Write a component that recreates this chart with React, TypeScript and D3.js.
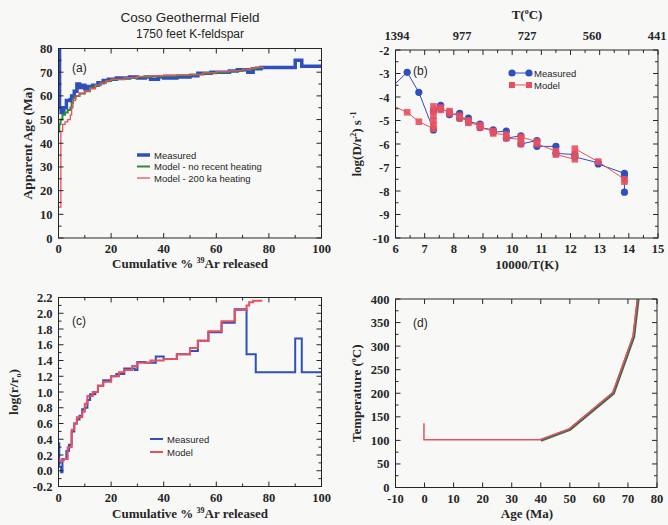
import React, { useEffect, useRef } from 'react';
import * as d3 from 'd3';

// (a) apparent age spectra: [cumulative % 39Ar, age Ma]
const ageMeasured = [[0,80],[0.4,55],[1,53],[2,55],[3,58],[4.5,58.5],[5,60],[6,62],[7,65],[8,63.5],[9,64.5],[10,63],[11,64],[13,64.5],[15,65.5],[17,66.5],[19,67],[22,67.5],[27,68],[30,67.5],[33,68],[35,67],[38,68],[40,67.5],[45,68],[50,68.5],[53,69.5],[58,70],[65,70.5],[68,71],[72,70],[74,71.5],[77,72],[90,75],[92.5,72.5],[100,72.5]];
const ageModelNoHeat = [[0,45],[0.3,48],[0.8,50],[1.5,52],[2.5,53],[3.5,54],[4.5,55],[5,57],[5.5,59],[6.5,60],[8,61],[10,62],[12,63.5],[14,64.5],[16,65.5],[18,66.3],[20,67],[25,67.5],[30,68],[35,68.3],[40,68.5],[45,68.7],[50,69],[55,69.5],[60,70],[65,70.5],[70,71],[73,71.5],[75,72],[78,72]];
const ageModelHeat = [[0,13],[0.9,45],[1.6,48],[2.5,49],[3.5,50],[4.5,52],[5,55],[5.5,58],[6.5,60],[8,61],[10,62],[12,63],[14,64.5],[16,65.5],[18,66.3],[20,67],[25,67.7],[30,68.2],[35,68.5],[40,68.7],[45,68.8],[50,69],[55,69.7],[60,70.2],[65,70.7],[70,71.2],[73,71.7],[75,72],[78,72]];
const ageXTicks = [0, 20, 40, 60, 80, 100];
const ageYTicks = [0, 10, 20, 30, 40, 50, 60, 70, 80];

// (b) Arrhenius plot: [10000/T(K), log(D/r^2)]
const arrMeasured = [[5.6,-3.9],[6.4,-2.95],[6.8,-3.8],[7.3,-5.4],[7.3,-4.6],[7.55,-4.35],[7.55,-4.5],[7.85,-4.65],[7.85,-4.75],[8.2,-4.7],[8.2,-4.9],[8.5,-4.9],[8.5,-5.05],[8.9,-5.15],[8.9,-5.3],[9.35,-5.4],[9.35,-5.5],[9.8,-5.45],[9.8,-5.75],[10.3,-5.65],[10.3,-6.0],[10.85,-5.85],[10.85,-6.1],[11.5,-6.1],[11.5,-6.4],[12.15,-6.45],[12.15,-6.55],[12.95,-6.8],[12.95,-6.85],[13.85,-7.25],[13.85,-7.35],[13.85,-8.05]];
const arrModel = [[5.6,-4.2],[6.4,-4.65],[6.8,-5.05],[7.3,-5.35],[7.3,-5.2],[7.3,-5.0],[7.3,-4.8],[7.3,-4.6],[7.3,-4.4],[7.55,-4.45],[7.55,-4.55],[7.85,-4.6],[7.85,-4.7],[8.2,-4.8],[8.2,-4.9],[8.5,-5.0],[8.5,-5.1],[8.9,-5.2],[8.9,-5.3],[9.35,-5.45],[9.35,-5.55],[9.8,-5.6],[9.8,-5.75],[10.3,-5.8],[10.3,-6.0],[10.3,-5.7],[10.85,-5.9],[10.85,-6.0],[11.5,-6.3],[11.5,-6.45],[12.15,-6.65],[12.15,-6.45],[12.15,-6.2],[12.95,-6.75],[13.85,-7.5],[13.85,-7.6]];
const arrXTicks = [6, 7, 8, 9, 10, 11, 12, 13, 14, 15];
const arrYTicks = [-10, -9, -8, -7, -6, -5, -4, -3, -2];
const topTempLabels = ['1394', '977', '727', '560', '441'];

// (c) log(r/r0) spectra
const rMeasured = [[0,0.35],[0.3,0.05],[1,-0.02],[1.5,0.15],[3,0.25],[4,0.33],[5,0.5],[6,0.6],[7,0.65],[8,0.7],[9,0.78],[10,0.8],[11,0.9],[12,0.97],[14,1.0],[15,1.08],[17,1.15],[20,1.2],[22,1.23],[25,1.3],[29,1.28],[30,1.38],[33,1.37],[37,1.45],[40,1.42],[45,1.48],[50,1.52],[53,1.65],[57,1.76],[62,1.88],[67,2.05],[71.5,1.48],[75,1.25],[90,1.68],[92.5,1.25],[100,1.25]];
const rModel = [[0,0.13],[2,0.15],[3.5,0.3],[5,0.52],[6,0.6],[7,0.68],[9,0.75],[10,0.85],[11,0.95],[13,1.0],[15,1.08],[17,1.13],[20,1.2],[23,1.25],[25,1.28],[28,1.33],[30,1.37],[35,1.4],[40,1.42],[45,1.48],[50,1.56],[53,1.65],[57,1.77],[62,1.9],[67,2.04],[71.5,2.1],[72.5,2.14],[74,2.16],[77.5,2.16]];
const rYTicks = [-0.2, 0, 0.2, 0.4, 0.6, 0.8, 1.0, 1.2, 1.4, 1.6, 1.8, 2.0, 2.2];

// (d) thermal history: [age Ma, T °C]
const histHeat = [[0,135],[0,100],[40,100],[50,123],[65,200],[72,320],[73.5,400]];
const histNoHeat = [[40,100],[50,123],[65,200],[72,320],[73.5,400]];
const histXTicks = [-10, 0, 10, 20, 30, 40, 50, 60, 70, 80];
const histYTicks = [0, 50, 100, 150, 200, 250, 300, 350, 400];

const BLUE = '#2f4fbf';
const GREEN = '#2f8a3c';
const RED = '#e8505f';
const INK = '#262626';
const SERIF = '"Liberation Serif", "DejaVu Serif", serif';
const SANS = '"Liberation Sans", Arial, sans-serif';

type G = d3.Selection<SVGGElement, unknown, null, undefined>;

const mids = (t: number[]) => t.slice(1).map((v, i) => Math.round(((v + t[i]) / 2) * 1000) / 1000);

function frame(g: G, x: any, y: any, xMaj: number[], xMin: number[], yMaj: number[], yMin: number[], yFmt: (v: number) => string) {
  const [x0, x1] = x.range();
  const [y0, y1] = y.range();
  g.append('rect').attr('x', x0).attr('y', y1).attr('width', x1 - x0).attr('height', y0 - y1)
    .attr('fill', 'none').attr('stroke', INK).attr('stroke-width', 1);
  const tick = (vals: number[], len: number) => {
    vals.forEach(v => {
      const px = x(v);
      g.append('line').attr('x1', px).attr('x2', px).attr('y1', y0).attr('y2', y0 - len).attr('stroke', INK);
      g.append('line').attr('x1', px).attr('x2', px).attr('y1', y1).attr('y2', y1 + len).attr('stroke', INK);
    });
  };
  const ticky = (vals: number[], len: number) => {
    vals.forEach(v => {
      const py = y(v);
      g.append('line').attr('x1', x0).attr('x2', x0 + len).attr('y1', py).attr('y2', py).attr('stroke', INK);
      g.append('line').attr('x1', x1).attr('x2', x1 - len).attr('y1', py).attr('y2', py).attr('stroke', INK);
    });
  };
  tick(xMaj, 5); tick(xMin, 3); ticky(yMaj, 5); ticky(yMin, 3);
  g.selectAll(null).data(xMaj).enter().append('text')
    .attr('x', d => x(d)).attr('y', y0 + 15).attr('text-anchor', 'middle')
    .attr('font-family', SERIF).attr('font-weight', 'bold').attr('font-size', 12.5).attr('fill', INK)
    .text(d => String(d));
  g.selectAll(null).data(yMaj).enter().append('text')
    .attr('x', x0 - 6).attr('y', d => y(d) + 4.5).attr('text-anchor', 'end')
    .attr('font-family', SERIF).attr('font-weight', 'bold').attr('font-size', 12.5).attr('fill', INK)
    .text(d => yFmt(d));
}

function clip(defs: any, id: string, x: any, y: any) {
  const [x0, x1] = x.range();
  const [y0, y1] = y.range();
  defs.append('clipPath').attr('id', id).append('rect').attr('x', x0).attr('y', y1).attr('width', x1 - x0).attr('height', y0 - y1);
}

function cumLabel(g: G, cx: number, cy: number) {
  const t = g.append('text').attr('x', cx).attr('y', cy).attr('text-anchor', 'middle')
    .attr('font-family', SERIF).attr('font-weight', 'bold').attr('font-size', 13).attr('fill', INK);
  t.append('tspan').text('Cumulative % ');
  t.append('tspan').attr('font-size', 8).attr('dy', -5).text('39');
  t.append('tspan').attr('dy', 5).text('Ar released');
}

function legend(g: G, x: number, y: number, items: [string, string, number][], gap: number) {
  items.forEach(([label, color, w], i) => {
    g.append('line').attr('x1', x).attr('x2', x + 13).attr('y1', y + i * gap).attr('y2', y + i * gap)
      .attr('stroke', color).attr('stroke-width', w);
    g.append('text').attr('x', x + 17).attr('y', y + i * gap + 3.5).attr('font-family', SANS)
      .attr('font-size', 9.5).attr('fill', INK).text(label);
  });
}

export default function App() {
  const ref = useRef<SVGSVGElement>(null);

  useEffect(() => {
    const svg = d3.select(ref.current);
    svg.selectAll('*').remove();
    svg.append('rect').attr('width', 668).attr('height', 525).attr('fill', '#f8f8f7');
    const defs = svg.append('defs');
    const g = svg.append('g') as unknown as G;
    const intFmt = (v: number) => String(v);

    // ---------- (a)
    const xa = d3.scaleLinear().domain([0, 100]).range([58.5, 321.5]);
    const ya = d3.scaleLinear().domain([0, 80]).range([238, 48.5]);
    clip(defs, 'ca', xa, ya);
    const la = d3.line().x((d: any) => xa(d[0])).y((d: any) => ya(d[1])).curve(d3.curveStepAfter);
    const pa = g.append('g').attr('clip-path', 'url(#ca)');
    pa.append('path').attr('d', la(ageMeasured as any)).attr('fill', 'none').attr('stroke', BLUE).attr('stroke-width', 3.5);
    pa.append('path').attr('d', la(ageModelNoHeat as any)).attr('fill', 'none').attr('stroke', GREEN).attr('stroke-width', 2);
    pa.append('path').attr('d', la(ageModelHeat as any)).attr('fill', 'none').attr('stroke', RED).attr('stroke-width', 1.3);
    frame(g, xa, ya, ageXTicks, mids(ageXTicks), ageYTicks, mids(ageYTicks), intFmt);
    g.append('text').attr('x', 72).attr('y', 72).attr('font-family', SANS).attr('font-size', 12).attr('fill', INK).text('(a)');
    legend(g, 137, 155, [['Measured', BLUE, 3.5], ['Model - no recent heating', GREEN, 2], ['Model - 200 ka heating', RED, 1.3]], 11.5);
    g.append('text').attr('x', 190).attr('y', 22).attr('text-anchor', 'middle').attr('font-family', SANS).attr('font-size', 13.5).attr('fill', INK).text('Coso Geothermal Field');
    g.append('text').attr('x', 190).attr('y', 38).attr('text-anchor', 'middle').attr('font-family', SANS).attr('font-size', 12).attr('fill', INK).text('1750 feet K-feldspar');
    g.append('text').attr('transform', `translate(32,${(48.5 + 238) / 2}) rotate(-90)`).attr('text-anchor', 'middle')
      .attr('font-family', SERIF).attr('font-weight', 'bold').attr('font-size', 13.5).attr('fill', INK).text('Apparent Age (Ma)');
    cumLabel(g, 190, 268);

    // ---------- (b)
    const xb = d3.scaleLinear().domain([6, 15]).range([395.5, 658]);
    const yb = d3.scaleLinear().domain([-10, -2]).range([238, 50]);
    clip(defs, 'cb', xb, yb);
    const lb = d3.line().x((d: any) => xb(d[0])).y((d: any) => yb(d[1]));
    const pb = g.append('g').attr('clip-path', 'url(#cb)');
    pb.append('path').attr('d', lb(arrMeasured as any)).attr('fill', 'none').attr('stroke', BLUE).attr('stroke-width', 1);
    pb.selectAll(null).data(arrMeasured).enter().append('circle')
      .attr('cx', d => xb(d[0])).attr('cy', d => yb(d[1])).attr('r', 3.6).attr('fill', BLUE);
    pb.append('path').attr('d', lb(arrModel as any)).attr('fill', 'none').attr('stroke', RED).attr('stroke-width', 1);
    pb.selectAll(null).data(arrModel).enter().append('rect')
      .attr('x', d => xb(d[0]) - 3.3).attr('y', d => yb(d[1]) - 3.3).attr('width', 6.6).attr('height', 6.6).attr('fill', RED).attr('opacity', 0.9);
    frame(g, xb, yb, arrXTicks, mids(arrXTicks), arrYTicks, mids(arrYTicks), intFmt);
    const xTop = d3.scalePoint().domain(topTempLabels).range([397, 657]);
    g.selectAll(null).data(topTempLabels).enter().append('text')
      .attr('x', d => xTop(d)!).attr('y', 40).attr('text-anchor', 'middle')
      .attr('font-family', SERIF).attr('font-weight', 'bold').attr('font-size', 12.5).attr('fill', INK).text(d => d);
    const tt = g.append('text').attr('x', 527).attr('y', 19).attr('text-anchor', 'middle')
      .attr('font-family', SERIF).attr('font-weight', 'bold').attr('font-size', 13).attr('fill', INK);
    tt.append('tspan').text('T(');
    tt.append('tspan').attr('font-size', 8).attr('dy', -5).text('o');
    tt.append('tspan').attr('dy', 5).text('C)');
    g.append('text').attr('x', 413).attr('y', 75).attr('font-family', SANS).attr('font-size', 12).attr('fill', INK).text('(b)');
    // legend b
    [[BLUE, 'Measured', 73], [RED, 'Model', 85]].forEach(([c, label, yy]: any, i) => {
      g.append('line').attr('x1', 512).attr('x2', 529).attr('y1', yy).attr('y2', yy).attr('stroke', c).attr('stroke-width', 1);
      if (i === 0) {
        g.append('circle').attr('cx', 512).attr('cy', yy).attr('r', 3.6).attr('fill', c);
        g.append('circle').attr('cx', 529).attr('cy', yy).attr('r', 3.6).attr('fill', c);
      } else {
        g.append('rect').attr('x', 509).attr('y', yy - 3).attr('width', 6).attr('height', 6).attr('fill', c);
        g.append('rect').attr('x', 526).attr('y', yy - 3).attr('width', 6).attr('height', 6).attr('fill', c);
      }
      g.append('text').attr('x', 534).attr('y', yy + 3.5).attr('font-family', SANS).attr('font-size', 9.5).attr('fill', INK).text(label);
    });
    const yl = g.append('text').attr('transform', `translate(361,${(50 + 238) / 2}) rotate(-90)`).attr('text-anchor', 'middle')
      .attr('font-family', SERIF).attr('font-weight', 'bold').attr('font-size', 13).attr('fill', INK);
    yl.append('tspan').text('log(D/r');
    yl.append('tspan').attr('font-size', 8).attr('dy', -5).text('2');
    yl.append('tspan').attr('dy', 5).text(') s');
    yl.append('tspan').attr('font-size', 8).attr('dy', -5).text(' -1');
    g.append('text').attr('x', 527).attr('y', 269).attr('text-anchor', 'middle')
      .attr('font-family', SERIF).attr('font-weight', 'bold').attr('font-size', 13).attr('fill', INK).text('10000/T(K)');

    // ---------- (c)
    const xc = d3.scaleLinear().domain([0, 100]).range([58.5, 321.5]);
    const yc = d3.scaleLinear().domain([-0.2, 2.2]).range([486.5, 297.5]);
    clip(defs, 'cc', xc, yc);
    const lc = d3.line().x((d: any) => xc(d[0])).y((d: any) => yc(d[1])).curve(d3.curveStepAfter);
    const pc = g.append('g').attr('clip-path', 'url(#cc)');
    pc.append('path').attr('d', lc(rMeasured as any)).attr('fill', 'none').attr('stroke', BLUE).attr('stroke-width', 2);
    pc.append('path').attr('d', lc(rModel as any)).attr('fill', 'none').attr('stroke', RED).attr('stroke-width', 2);
    frame(g, xc, yc, ageXTicks, mids(ageXTicks), rYTicks, mids(rYTicks), v => v.toFixed(1));
    g.append('text').attr('x', 72).attr('y', 325).attr('font-family', SANS).attr('font-size', 12).attr('fill', INK).text('(c)');
    legend(g, 150, 439, [['Measured', BLUE, 2], ['Model', RED, 2]], 13);
    const yc2 = g.append('text').attr('transform', `translate(18,${(297.5 + 486.5) / 2}) rotate(-90)`).attr('text-anchor', 'middle')
      .attr('font-family', SERIF).attr('font-weight', 'bold').attr('font-size', 13.5).attr('fill', INK);
    yc2.append('tspan').text('log(r/r');
    yc2.append('tspan').attr('font-size', 8).attr('dy', 3).text('o');
    yc2.append('tspan').attr('dy', -3).text(')');
    cumLabel(g, 190, 518);

    // ---------- (d)
    const xd = d3.scaleLinear().domain([-10, 80]).range([395.5, 657]);
    const yd = d3.scaleLinear().domain([0, 400]).range([487.5, 299]);
    clip(defs, 'cd', xd, yd);
    const ld = d3.line().x((d: any) => xd(d[0])).y((d: any) => yd(d[1]));
    const pd = g.append('g').attr('clip-path', 'url(#cd)');
    pd.append('path').attr('d', ld(histNoHeat as any)).attr('fill', 'none').attr('stroke', '#3f6a4c').attr('stroke-width', 3);
    pd.append('path').attr('d', ld(histHeat as any)).attr('fill', 'none').attr('stroke', RED).attr('stroke-width', 1.5)
      .attr('transform', 'translate(-0.6,-0.6)');
    frame(g, xd, yd, histXTicks, [], histYTicks, mids(histYTicks), intFmt);
    g.append('text').attr('x', 413).attr('y', 327).attr('font-family', SANS).attr('font-size', 12).attr('fill', INK).text('(d)');
    const yd2 = g.append('text').attr('transform', `translate(361,${(299 + 487.5) / 2}) rotate(-90)`).attr('text-anchor', 'middle')
      .attr('font-family', SERIF).attr('font-weight', 'bold').attr('font-size', 13).attr('fill', INK);
    yd2.append('tspan').text('Temperature  (');
    yd2.append('tspan').attr('font-size', 8).attr('dy', -5).text('o');
    yd2.append('tspan').attr('dy', 5).text('C)');
    g.append('text').attr('x', 527).attr('y', 518).attr('text-anchor', 'middle')
      .attr('font-family', SERIF).attr('font-weight', 'bold').attr('font-size', 13).attr('fill', INK).text('Age  (Ma)');
  }, []);

  return (
    <svg ref={ref} width={668} height={525} style={{ position: 'absolute', left: 0, top: 0, display: 'block' }} />
  );
}
